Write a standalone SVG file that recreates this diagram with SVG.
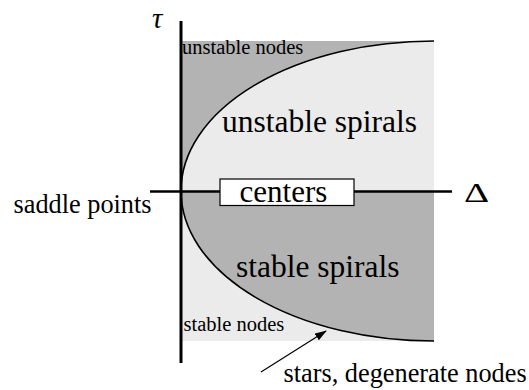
<svg xmlns="http://www.w3.org/2000/svg" width="529" height="390" viewBox="0 0 529 390">
<defs>
<style>
text{font-family:'Liberation Serif','DejaVu Serif',serif;fill:#000}
.dark{fill:#b3b3b3}
.light{fill:#ebebeb}
</style>
<marker id="ah" markerWidth="12" markerHeight="8" refX="11" refY="4" orient="auto" markerUnits="userSpaceOnUse">
<path d="M0,0 L12,4 L0,8 Z" fill="#000"/>
</marker>
</defs>
<rect width="529" height="390" fill="#fff"/>
<g id="regions">
<rect class="light" x="181" y="41" width="253" height="300"/>
<path id="unstable-nodes-region" class="dark" d="M181,191 A253,150 0 0 1 434,41 L181,41 Z"/>
<path id="stable-spirals-region" class="dark" d="M181,191 A253,150 0 0 0 434,341 L434,191 Z"/>
</g>
<g id="connectors" fill="none" stroke="#000">
<path id="boundary" d="M434,41 A253,150 0 0 0 181,191 A253,150 0 0 0 434,341" stroke-width="1.6"/>
<line id="delta-axis" x1="150" y1="191.5" x2="452" y2="191.5" stroke-width="2.7"/>
<line id="tau-axis" x1="181" y1="21" x2="181" y2="363" stroke-width="3"/>
<line id="stars-arrow" x1="261" y1="372" x2="326" y2="331" stroke-width="1.2" marker-end="url(#ah)"/>
</g>
<g id="centers">
<rect x="220" y="179" width="134" height="26.5" fill="#fff" stroke="#000" stroke-width="1.2"/>
<text x="239.5" y="201.5" font-size="31">centers</text>
</g>
<g id="labels">
<text x="182" y="53.5" font-size="20.5">unstable nodes</text>
<text x="222" y="132" font-size="31.5">unstable spirals</text>
<text x="236" y="276.5" font-size="31.5">stable spirals</text>
<text x="183.5" y="331" font-size="20.5">stable nodes</text>
<text x="283.5" y="381.5" font-size="26.3">stars, degenerate nodes</text>
<text x="13.5" y="213.3" font-size="26.3">saddle points</text>
<text x="0" y="0" font-size="28" transform="translate(464,201.5) scale(1.4,1)">Δ</text>
<text x="152" y="28" font-size="29" font-style="italic">τ</text>
</g>
</svg>
